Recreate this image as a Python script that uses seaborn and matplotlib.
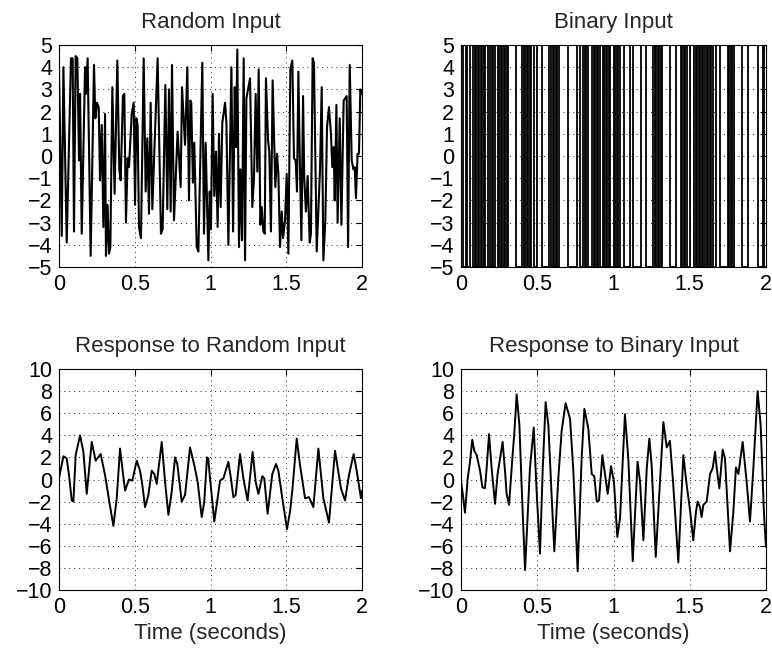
import numpy as np
import matplotlib
matplotlib.use("Agg")
import matplotlib.pyplot as plt
import seaborn as sns

# ---------------- data ----------------
titles = ["Random Input", "Binary Input", "Response to Random Input", "Response to Binary Input"]
x_label = "Time (seconds)"
x_ticks = [0, 0.5, 1, 1.5, 2]
x_tick_labels = ["0", "0.5", "1", "1.5", "2"]
top_y_ticks = [-5, -4, -3, -2, -1, 0, 1, 2, 3, 4, 5]
bottom_y_ticks = [-10, -8, -6, -4, -2, 0, 2, 4, 6, 8, 10]

random_t = [0.000, 0.018, 0.029, 0.051, 0.079, 0.090, 0.099, 0.110, 0.121, 0.132,
            0.139, 0.150, 0.172, 0.178, 0.189, 0.209, 0.231, 0.240, 0.251, 0.262,
            0.271, 0.282, 0.293, 0.304, 0.310, 0.321, 0.330, 0.339, 0.352, 0.367,
            0.385, 0.398, 0.407, 0.422, 0.431, 0.442, 0.453, 0.462, 0.480, 0.493,
            0.502, 0.510, 0.519, 0.528, 0.541, 0.559, 0.572, 0.583, 0.594, 0.605,
            0.616, 0.651, 0.673, 0.684, 0.702, 0.715, 0.726, 0.737, 0.746, 0.759,
            0.783, 0.803, 0.812, 0.832, 0.847, 0.858, 0.867, 0.873, 0.884, 0.893,
            0.909, 0.920, 0.946, 0.957, 0.968, 0.986, 0.995, 1.003, 1.014, 1.025,
            1.036, 1.047, 1.056, 1.067, 1.078, 1.096, 1.105, 1.118, 1.138, 1.149,
            1.160, 1.168, 1.177, 1.188, 1.197, 1.208, 1.219, 1.228, 1.237, 1.250,
            1.261, 1.276, 1.287, 1.298, 1.309, 1.318, 1.329, 1.338, 1.349, 1.358,
            1.366, 1.380, 1.388, 1.399, 1.410, 1.428, 1.439, 1.448, 1.459, 1.470,
            1.479, 1.492, 1.503, 1.514, 1.527, 1.540, 1.551, 1.562, 1.571, 1.580,
            1.589, 1.600, 1.611, 1.619, 1.630, 1.641, 1.655, 1.663, 1.674, 1.683,
            1.701, 1.723, 1.734, 1.745, 1.758, 1.769, 1.782, 1.795, 1.804, 1.813,
            1.820, 1.831, 1.839, 1.853, 1.864, 1.879, 1.899, 1.908, 1.919, 1.932,
            1.943, 1.952, 1.960, 1.971, 1.980, 1.989, 2.000]
random_v = [3.9, -3.6, 4.0, -3.9, 4.4, 4.4, -3.4, 4.5, 4.4, -0.2,
            2.8, -3.5, 4.0, 2.8, 4.4, -4.5, 4.1, 1.7, 2.4, 2.2,
            -1.1, 1.4, -3.2, 1.9, -4.5, -2.2, -4.4, -4.1, 3.1, -1.7,
            4.3, -0.6, -1.1, 2.7, 2.8, -3.0, -0.1, -0.5, 1.9, 2.4,
            -2.2, 1.7, 1.4, -3.2, -3.7, 4.4, -1.6, 0.8, -2.6, 2.4,
            -2.4, 4.4, -3.5, -3.3, 3.2, -2.4, 3.0, -2.5, 4.1, -2.9,
            1.1, -1.4, 3.1, 0.5, 4.0, -2.0, 2.5, 2.4, -1.2, 0.6,
            -4.1, -4.3, 4.2, -3.5, 0.6, -4.7, -1.6, -3.3, 2.8, -1.8,
            0.2, -3.2, 1.0, -2.3, 1.5, 2.4, 1.5, -4.0, 4.0, -3.4,
            3.1, 0.4, 4.8, -4.1, -0.6, -3.8, 4.4, -4.7, 2.6, 3.1,
            3.5, -2.3, -1.0, 2.8, -0.7, 3.9, -3.1, -2.3, -3.4, -3.5,
            3.5, 0.7, 0.2, -3.4, 3.4, -1.4, 0.1, -0.8, -4.1, -2.5,
            -3.7, -2.9, -0.8, -4.4, 3.9, 4.3, -0.1, -0.2, -1.6, 3.8,
            0.1, -3.8, 2.7, -1.1, -2.5, -0.9, -3.9, -3.5, 4.4, 4.2,
            -4.3, -0.6, 3.1, -4.7, -2.9, 1.3, 2.2, 1.0, -0.5, 0.4,
            -2.0, 2.3, -3.0, 1.7, -3.1, 2.5, 2.7, -4.1, 4.1, -0.2,
            -0.6, -0.5, -1.9, 0.1, 0.1, 3.0, 2.8]

# binary input: run lengths in 0.01 s samples, alternating level starting at +5
binary_start_level = 5
binary_runs = [1, 2, 1, 2, 2, 1,
               1, 1, 1, 1, 1, 1, 1,
               2, 1, 1, 1, 1, 2,
               1, 1, 1, 1, 1, 1, 1,
               5, 4, 1, 1, 1, 1, 1, 1,
               2, 2, 3, 5, 1, 1, 1, 1, 1, 1,
               6, 6, 2, 2, 1, 1, 1, 3,
               1, 1, 1, 1, 1, 2, 1, 1, 1, 1, 1, 2,
               1, 1, 1, 1, 3, 4, 2, 5, 3, 5,
               1, 1, 1, 1, 1, 1, 5, 4, 3, 1, 1, 1, 1, 2, 3,
               1, 1, 1, 1, 1, 1, 1, 1, 1, 1, 1, 1,
               2, 3, 5, 1, 1, 1, 1, 5, 4, 7, 3, 1, 1]
binary_dt = 0.01

resp_random_t = [0.000, 0.029, 0.051, 0.066, 0.084, 0.095, 0.110, 0.139, 0.161, 0.183,
                 0.216, 0.242, 0.275, 0.304, 0.332, 0.359, 0.381, 0.403, 0.420, 0.436,
                 0.462, 0.484, 0.513, 0.535, 0.550, 0.568, 0.590, 0.612, 0.629, 0.645,
                 0.678, 0.700, 0.722, 0.744, 0.766, 0.781, 0.810, 0.832, 0.865, 0.893,
                 0.915, 0.942, 0.959, 0.977, 0.985, 0.997, 1.025, 1.047, 1.063, 1.085,
                 1.118, 1.135, 1.151, 1.166, 1.195, 1.217, 1.245, 1.278, 1.298, 1.316,
                 1.342, 1.355, 1.377, 1.408, 1.432, 1.448, 1.474, 1.505, 1.525, 1.540,
                 1.569, 1.591, 1.624, 1.650, 1.679, 1.712, 1.745, 1.782, 1.822, 1.861,
                 1.888, 1.914, 1.945, 1.965, 1.993, 2.000]
resp_random_v = [0.1, 2.1, 1.9, 0.4, -1.9, -2.0, 2.2, 4.0, 2.5, -1.3,
                 3.4, 1.7, 2.3, 0.4, -2.0, -4.2, -1.7, 2.8, 0.8, -1.0,
                 0.0, -0.1, 1.7, 0.8, -0.5, -2.5, -1.4, 0.8, 0.5, -0.4,
                 3.4, -0.2, -3.2, -1.1, 2.0, 1.4, -2.0, -1.4, 2.9, 1.3,
                 -0.2, -3.4, -2.0, 2.0, 1.9, 0.1, -3.8, -1.7, -0.1, 0.1,
                 1.6, 0.1, -1.6, -1.4, 2.3, 0.1, -1.9, 2.5, -0.2, -1.3,
                 0.3, 0.1, -3.1, 0.5, 1.4, 0.8, -1.7, -4.5, -2.9, -1.0,
                 3.7, 1.3, -1.7, -1.6, -2.5, 2.8, -1.7, -3.9, 2.6, -0.8,
                 -1.9, 0.4, 2.3, 0.8, -1.7, -1.0]

resp_binary_t = [0.000, 0.015, 0.026, 0.044, 0.059, 0.074, 0.087, 0.103, 0.125, 0.140,
                 0.157, 0.168, 0.184, 0.201, 0.223, 0.240, 0.256, 0.273, 0.289, 0.299,
                 0.315, 0.332, 0.350, 0.365, 0.383, 0.398, 0.420, 0.452, 0.477, 0.496,
                 0.518, 0.536, 0.555, 0.573, 0.595, 0.612, 0.638, 0.660, 0.686, 0.715,
                 0.737, 0.765, 0.791, 0.809, 0.835, 0.857, 0.874, 0.890, 0.905, 0.927,
                 0.944, 0.962, 0.984, 1.003, 1.025, 1.043, 1.075, 1.097, 1.126, 1.158,
                 1.174, 1.196, 1.218, 1.235, 1.250, 1.277, 1.327, 1.349, 1.370, 1.392,
                 1.425, 1.458, 1.480, 1.502, 1.523, 1.541, 1.552, 1.567, 1.578, 1.589,
                 1.611, 1.633, 1.650, 1.666, 1.677, 1.694, 1.716, 1.731, 1.764, 1.786,
                 1.803, 1.819, 1.847, 1.873, 1.895, 1.917, 1.945, 1.965, 1.987, 2.000]
resp_binary_v = [-0.1, -1.7, -3.0, 0.1, 1.6, 3.6, 2.6, 2.2, 0.8, -0.7,
                 -0.8, 1.0, 4.1, 1.0, -2.2, 0.5, 1.9, 3.4, 0.7, -1.3,
                 -2.3, 1.0, 4.3, 7.7, 4.9, -0.7, -8.2, 1.0, 4.7, -1.1,
                 -6.7, 1.0, 7.0, 4.9, -1.7, -6.5, 0.1, 4.4, 6.9, 5.5,
                 0.7, -8.3, 1.9, 6.4, 4.6, 0.5, 0.3, -2.0, -1.9, 2.2,
                 0.5, -1.3, 1.2, -0.2, -5.2, -3.5, 5.9, 1.9, -7.4, 1.6,
                 -0.2, -5.5, 1.0, 3.7, 1.3, -7.0, 5.2, 2.9, 3.5, -0.5,
                 -7.5, 2.2, -0.5, -2.8, -5.5, -2.9, -2.0, -2.5, -3.4, -2.3,
                 -2.0, 0.5, 1.0, 2.5, 1.0, -0.8, 2.7, 1.9, -6.5, -2.9,
                 1.1, 0.5, 3.4, -0.2, -3.8, 1.0, 8.0, 4.9, -3.2, -6.1]

# ---------------- style ----------------
sns.set_theme(style="white")
plt.rcParams["font.family"] = ["Liberation Sans", "DejaVu Sans"]

W, H = 772, 651
fig = plt.figure(figsize=(W / 100, H / 100), dpi=100)
fig.patch.set_facecolor("white")

def axrect(x0, y0, x1, y1):
    return [x0 / W, 1 - y1 / H, (x1 - x0) / W, (y1 - y0) / H]

ax_rand = fig.add_axes(axrect(59, 45, 362, 267))
ax_bin = fig.add_axes(axrect(461, 45, 766, 267))
ax_rr = fig.add_axes(axrect(59, 369, 362, 590))
ax_rb = fig.add_axes(axrect(461, 369, 766, 590))

# binary step data
edges = [0.0]
levels = []
lvl = binary_start_level
for r in binary_runs:
    edges.append(edges[-1] + r * binary_dt)
    levels.append(lvl)
    lvl = -lvl
levels.append(levels[-1])
edges = np.round(np.array(edges), 4)

line_kw = dict(color="black", estimator=None, sort=False,
               solid_joinstyle="round", solid_capstyle="round")
sns.lineplot(x=np.array(random_t), y=np.array(random_v), ax=ax_rand, linewidth=1.5, **line_kw)
sns.lineplot(x=edges, y=np.array(levels), ax=ax_bin, linewidth=1.3,
             drawstyle="steps-post", **line_kw)
sns.lineplot(x=np.array(resp_random_t), y=np.array(resp_random_v), ax=ax_rr, linewidth=1.4, **line_kw)
sns.lineplot(x=np.array(resp_binary_t), y=np.array(resp_binary_v), ax=ax_rb, linewidth=1.4, **line_kw)

for ax, title, yt in [(ax_rand, titles[0], top_y_ticks), (ax_bin, titles[1], top_y_ticks),
                      (ax_rr, titles[2], bottom_y_ticks), (ax_rb, titles[3], bottom_y_ticks)]:
    ax.set_xlim(0, 2)
    ax.set_ylim(min(yt), max(yt))
    ax.set_xticks(x_ticks)
    ax.set_xticklabels(x_tick_labels)
    ax.set_yticks(yt)
    ax.set_yticklabels([("\u2212" + str(abs(v))) if v < 0 else str(v) for v in yt])
    ax.set_title(title, fontsize=16, pad=12)
    ax.set_xlabel("")
    ax.set_ylabel("")
    ax.grid(True, linestyle=(0, (1, 4)), linewidth=0.7, color="black", alpha=0.85)
    ax.set_axisbelow(True)
    ax.tick_params(direction="in", top=True, right=True, length=4, width=0.8,
                   labelsize=15.5, pad=5, colors="black")
    for s in ax.spines.values():
        s.set_visible(True)
        s.set_color("black")
        s.set_linewidth(0.8)

ax_rr.set_xlabel(x_label, fontsize=16, labelpad=4)
ax_rb.set_xlabel(x_label, fontsize=16, labelpad=4)

fig.savefig("out.png", dpi=100, facecolor="white")
